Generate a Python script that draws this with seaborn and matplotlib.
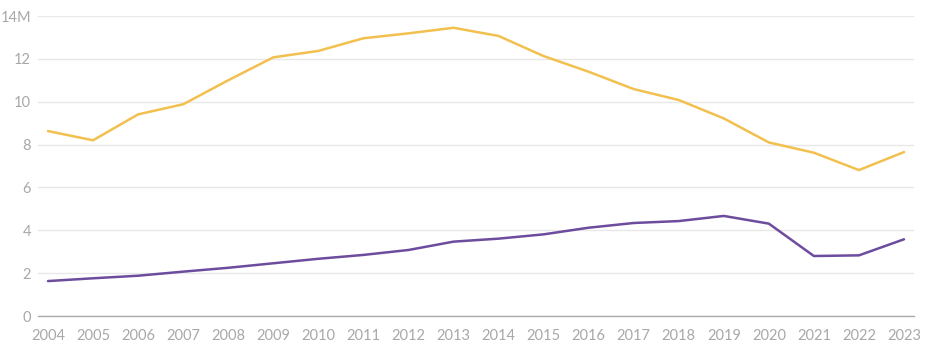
import matplotlib.pyplot as plt
import matplotlib.ticker as mticker
import pandas as pd
import seaborn as sns

years = list(range(2004, 2024))
upper_series = [8.63, 8.2, 9.41, 9.88, 11.0, 12.07, 12.37, 12.96, 13.19, 13.45,
                13.07, 12.13, 11.4, 10.59, 10.08, 9.22, 8.1, 7.62, 6.81, 7.65]
lower_series = [1.63, 1.76, 1.88, 2.07, 2.25, 2.46, 2.67, 2.85, 3.08, 3.47,
                3.61, 3.81, 4.12, 4.34, 4.43, 4.67, 4.31, 2.8, 2.83, 3.58]
y_ticks = [0, 2, 4, 6, 8, 10, 12, 14]

df = pd.DataFrame({
    'year': years * 2,
    'value': upper_series + lower_series,
    'series': ['upper'] * len(years) + ['lower'] * len(years),
})

sns.set_style('white')
plt.rcParams['font.family'] = ['Lato', 'DejaVu Sans']

fig = plt.figure(figsize=(9.52, 3.62), dpi=100)
ax = fig.add_axes([38 / 952, 46 / 362, 876 / 952, 300 / 362])

sns.lineplot(data=df, x='year', y='value', hue='series',
             palette={'upper': '#f2c04f', 'lower': '#6d4c9e'},
             linewidth=1.8, legend=False, ax=ax)

ax.set_xlim(2004 - 10 / 45.05, 2023 + 10 / 45.05)
ax.set_ylim(0, 14)
ax.set_xticks(years)
ax.set_yticks(y_ticks)
ax.yaxis.set_major_formatter(mticker.FuncFormatter(
    lambda v, pos: f'{int(v)}M' if v == 14 else f'{int(v)}'))

ax.grid(axis='y', color='#e8e8e8', linewidth=1)
ax.set_axisbelow(True)
for side in ['left', 'right', 'top']:
    ax.spines[side].set_visible(False)
ax.spines['bottom'].set_color('#aaaaaa')
ax.spines['bottom'].set_linewidth(1)

ax.tick_params(axis='x', colors='#aaaaaa', labelcolor='#a8a8a8', length=5,
               width=0.8, direction='out', labelsize=10.5, pad=4)
ax.tick_params(axis='y', length=0, labelcolor='#a8a8a8', labelsize=10.5, pad=5)
ax.set_xlabel('')
ax.set_ylabel('')

fig.savefig('out.png', dpi=100)
